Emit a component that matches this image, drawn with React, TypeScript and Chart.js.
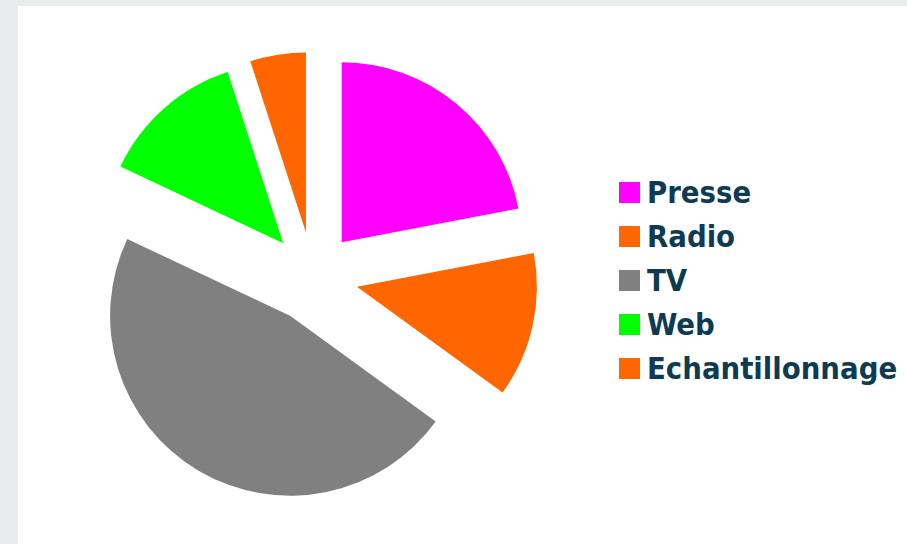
import { useEffect, useRef } from 'react';
import { Chart, registerables, Plugin } from 'chart.js';

Chart.register(...registerables);

const labels = ['Presse', 'Radio', 'TV', 'Web', 'Echantillonnage'];
const shares = [22, 13, 47, 13, 5];
const colors = ['#ff00ff', '#ff6600', '#808080', '#00ff00', '#ff6600'];

const EXPLODE = 45;
const TEXT_COLOR = '#0e3a53';

// pushes every slice out along its middle angle (Chart.js' own offset also shrinks the arcs)
const explodePlugin: Plugin<'pie'> = {
  id: 'explode',
  beforeDatasetsDraw(chart) {
    const ctx = chart.ctx;
    const meta = chart.getDatasetMeta(0);
    meta.data.forEach((arc: any) => {
      const mid = (arc.startAngle + arc.endAngle) / 2;
      ctx.save();
      ctx.translate(Math.cos(mid) * EXPLODE, Math.sin(mid) * EXPLODE);
      arc.draw(ctx);
      ctx.restore();
    });
    return false;
  },
};

export default function App() {
  const canvasRef = useRef<HTMLCanvasElement>(null);
  const chartRef = useRef<Chart | null>(null);

  useEffect(() => {
    if (!canvasRef.current) return;
    if (chartRef.current) chartRef.current.destroy();

    chartRef.current = new Chart(canvasRef.current, {
      type: 'pie',
      data: {
        labels,
        datasets: [
          {
            data: shares,
            backgroundColor: colors,
            borderWidth: 0,
            offset: 0,
            hoverOffset: 0,
          },
        ],
      },
      options: {
        animation: false,
        responsive: true,
        maintainAspectRatio: false,
        radius: 180,
        layout: { padding: { top: 4, bottom: 0, left: 0, right: 0 } },
        plugins: {
          legend: { display: false },
          tooltip: { enabled: false },
        },
      },
      plugins: [explodePlugin],
    });

    return () => {
      if (chartRef.current) {
        chartRef.current.destroy();
        chartRef.current = null;
      }
    };
  }, []);

  return (
    <div style={{ position: 'fixed', inset: 0, background: '#e8ecec' }}>
      <div style={{ position: 'absolute', left: 18, top: 6, right: 0, bottom: 0, background: '#fff' }}>
        <div style={{ position: 'absolute', left: 0, top: 0, width: 590, height: 538 }}>
          <canvas ref={canvasRef}></canvas>
        </div>
        <div
          style={{
            position: 'absolute',
            left: 601,
            top: 164.5,
            fontFamily: '"DejaVu Sans Condensed", "DejaVu Sans", sans-serif',
            fontStretch: 'condensed',
            fontWeight: 'bold',
            fontSize: 30.7,
            color: TEXT_COLOR,
          }}
        >
          {labels.map((label, i) => (
            <div key={label} style={{ display: 'flex', alignItems: 'center', height: 44, whiteSpace: 'nowrap' }}>
              <span style={{ width: 21, height: 21, background: colors[i], marginRight: 7, flex: 'none' }}></span>
              <span style={{ lineHeight: '30px' }}>{label}</span>
            </div>
          ))}
        </div>
      </div>
    </div>
  );
}
